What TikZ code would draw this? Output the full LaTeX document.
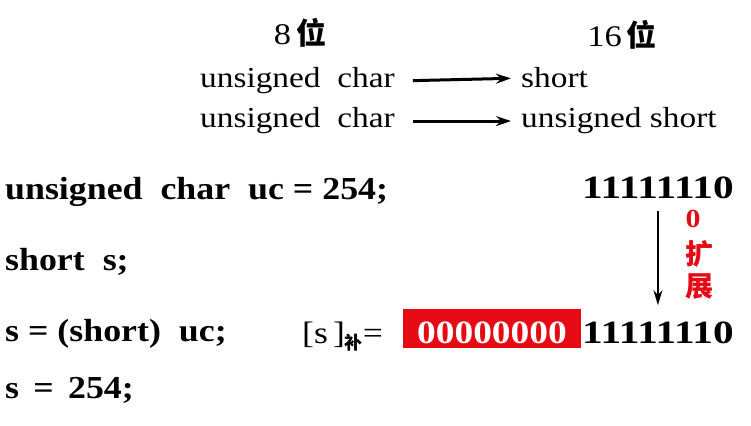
\documentclass[tikz,border=0pt]{standalone}
\usepackage{fontspec}
\setmainfont{Liberation Serif}
\newfontfamily\cjk{Noto Sans CJK SC}
\newfontfamily\codefont[FakeStretch=1.12]{Liberation Serif}
\newfontfamily\bitfont[FakeStretch=1.15]{Liberation Serif}
\newfontfamily\onefont[FakeStretch=1.27]{Liberation Serif}
\newfontfamily\typefont[FakeStretch=1.15]{Liberation Serif}
\usetikzlibrary{arrows.meta,positioning}

\definecolor{extred}{RGB}{230,10,20}

\begin{document}
\begin{tikzpicture}[x=1pt,y=-1pt,
    code/.style={anchor=base west,inner sep=0pt,font=\fontsize{32}{32}\selectfont\codefont\bfseries},
    bits/.style={anchor=base west,inner sep=0pt,font=\fontsize{32.5}{32}\selectfont\bitfont\bfseries},
    ones/.style={bits,font=\fontsize{32.5}{32}\selectfont\onefont\bfseries},
    typename/.style={anchor=base west,inner sep=0pt,font=\fontsize{29}{29}\selectfont\typefont},
    width/.style={anchor=base,inner sep=0pt,font=\fontsize{30}{30}\selectfont\typefont},
    conv/.style={-{Stealth[length=15pt,width=10pt]},line width=3pt,shorten <=18pt,shorten >=10pt},
    ext/.style={-{Stealth[length=15pt,width=9pt]},line width=2pt,shorten <=12pt,shorten >=16pt},
    note/.style={inner sep=0pt,text=extred,font=\fontsize{28}{28}\selectfont\cjk\bfseries}
  ]
  \useasboundingbox (0,0) rectangle (751,425);

  % widths
  \node[width] (w8) at (300,45) {8\,{\cjk\bfseries 位}};
  \node[width] (w16) at (622,47) {16\,{\cjk\bfseries 位}};

  % conversions
  \node[typename] (uc1) at (200,88) {unsigned\ \ char};
  \node[typename] (sh) at (521,88) {short};
  \node[typename] (uc2) at (200,128) {unsigned\ \ char};
  \node[typename] (ush) at (521,128) {unsigned short};
  \draw[conv] (uc1.east) -- (sh.west);
  \draw[conv] (uc2.east) -- (ush.west);

  % code
  \node[code] (l1) at (5,199) {unsigned\ \ char\ \ uc = 254;};
  \node[code] (l2) at (5,270) {short\ \ s;};
  \node[code] (l3) at (5,341) {s = (short)\ \ uc;};
  \node[code] (l4) at (5,398) {s\, =\, 254;};

  % bits
  \node[ones] (hi) at (582,198) {11111110};
  \node[anchor=base west,inner sep=0pt,font=\fontsize{31}{31}\selectfont\typefont] (sc) at (302,343) {[s\,]\raisebox{-6pt}{\fontsize{18}{18}\selectfont\cjk\bfseries 补}=};
  \fill[extred] (403,309) rectangle (581,348);
  \node[bits,text=white] (zero) at (417,343) {00000000};
  \node[ones] (lo) at (582,343) {11111110};
  \draw[ext] (hi.south) -- (lo.north);
  \node[note,font=\fontsize{26}{26}\selectfont\bitfont\bfseries,anchor=base] at (693,227) {0};
  \node[note] at (699,254) {扩};
  \node[note] at (699,287) {展};
\end{tikzpicture}
\end{document}
